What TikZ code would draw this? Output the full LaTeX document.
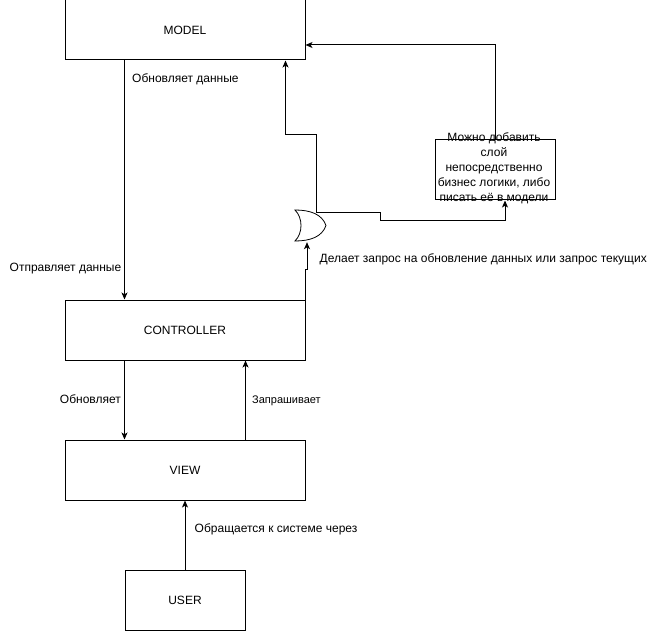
\documentclass[tikz,border=0pt]{standalone}
\usepackage{fontspec}
\setmainfont{Liberation Sans}
\usetikzlibrary{arrows.meta}
\begin{document}
\begin{tikzpicture}[x=1pt,y=-1pt,
  every node/.style={font=\fontsize{12pt}{14.5pt}\selectfont},
  box/.style={draw, line width=1pt, minimum width=240pt, minimum height=60pt, inner sep=0pt},
  userbox/.style={draw, line width=1pt, minimum width=120pt, minimum height=60pt, inner sep=0pt},
  notebox/.style={draw, line width=1pt, minimum width=120pt, minimum height=60pt, inner sep=0pt, align=center},
  lbl/.style={inner sep=0pt},
  conn/.style={line width=1pt},
  arr/.style={conn, -{Stealth[length=7pt,width=6pt,inset=1.8pt]}}
]
\useasboundingbox (0,0) rectangle (653,631);

\node[box] (model) at (185,30) {MODEL};
\node[box] (controller) at (185,330) {CONTROLLER};
\node[box] (view) at (185,470) {VIEW};
\node[userbox] (user) at (185,600) {USER};
\node[notebox] (note) at (495,170) {};
\node[lbl, align=center, font=\fontsize{12pt}{15pt}\selectfont] (notetext) at (494,168)
  {Можно добавить\\слой\\непосредственно\\бизнес логики, либо\\писать её в модели};

% OR gate
\node[inner sep=0pt, minimum width=31pt, minimum height=31pt] (gate) at (310.5,225.5) {};
\draw[line width=0.8pt] (295,210) .. controls (310,210) and (322,214) .. (326,225.5)
  .. controls (322,237) and (310,241) .. (295,241)
  .. controls (303,233) and (303,218) .. (295,210) -- cycle;
\coordinate (gtop) at (316,212.5);

% connectors
\draw[arr] ([xshift=60pt]model.south west) -- ([xshift=60pt]controller.north west);
\draw[arr] ([xshift=60pt]controller.south west) -- ([xshift=60pt]view.north west);
\draw[arr] ([xshift=-60pt]view.north east) -- ([xshift=-60pt]controller.south east);
\draw[arr] (user.north) -- (view.south);
\draw[arr] (controller.north east) -- ++(0,-30) -| ([xshift=-3.5pt,yshift=-1pt]gate.south);
\draw[arr] (gtop) -- ++(0,-77.5) -| ([xshift=-20pt]model.south east);
\draw[arr] (gtop) -- ++(64,0) -- ++(0,8) -| ([xshift=10pt]note.south);
\draw[arr] (note.north) |- ([yshift=-15pt]model.east);

% labels
\node[lbl, anchor=west] (l1) at (132,79) {Обновляет данные};
\node[lbl, anchor=east] (l2) at (121.5,269) {Отправляет данные};
\node[lbl, anchor=east] (l3) at (121,399) {Обновляет};
\node[lbl, anchor=west, font=\fontsize{11pt}{13pt}\selectfont] (l4) at (252,401) {Запрашивает};
\node[lbl, anchor=west] (l5) at (194.5,529) {Обращается к системе через};
\node[lbl, anchor=west] (l6) at (319.5,259) {Делает запрос на обновление данных или запрос текущих};
\end{tikzpicture}
\end{document}
